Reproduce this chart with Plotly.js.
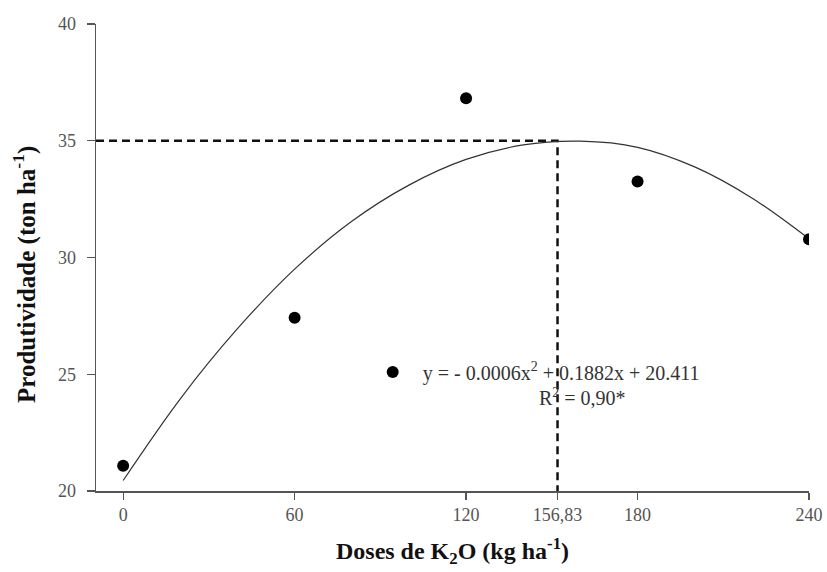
<!DOCTYPE html>
<html>
<head>
<meta charset="utf-8">
<script src="https://cdn.plot.ly/plotly-3.0.1.min.js"></script>
<style>html,body{margin:0;padding:0;background:#fff;}#chart{width:827px;height:572px;}</style>
</head>
<body>
<div id="chart"></div>
<script>
// Observed data
const doses = [0, 60, 120, 180, 240];
const produtividade = [21.08, 27.42, 36.82, 33.25, 30.78];

// Fitted curve
const curveX = [0, 20, 40, 60, 80, 100, 120, 140, 160, 180, 200, 220, 240];
const curveY = [20.45, 23.95, 26.95, 29.5, 31.55, 33.1, 34.2, 34.82, 34.98, 34.72, 33.88, 32.55, 30.8];

// Optimum guide lines (position as drawn)
const optX = 152;
const optY = 35;
const guideX = [-9.5, optX, optX];
const guideY = [optY, optY, 20];

// Tick labels
const xTickVals = [0, 60, 120, optX, 180, 240];
const xTickText = ['0', '60', '120', '156,83', '180', '240'];
const yTickVals = [20, 25, 30, 35, 40];

const serif = 'Liberation Serif, Times New Roman, serif';

const traces = [
  {
    x: guideX, y: guideY, mode: 'lines', showlegend: false, hoverinfo: 'skip',
    line: {color: '#111', width: 2.5, dash: '8px,5px'}
  },
  {
    x: curveX, y: curveY, mode: 'lines', showlegend: false,
    line: {color: '#333', width: 1.2, shape: 'spline', smoothing: 1}
  },
  {
    x: doses, y: produtividade, mode: 'markers',
    name: '&nbsp;&nbsp;y = - 0.0006x<sup>2</sup> + 0.1882x + 20.411',
    marker: {color: '#000', size: 12}
  }
];

const layout = {
  width: 827, height: 572,
  margin: {l: 96, r: 18, t: 24, b: 81},
  paper_bgcolor: '#fff', plot_bgcolor: '#fff',
  font: {family: serif, color: '#444', size: 14},
  showlegend: true,
  legend: {
    x: (392.7 - 96 - 20) / 713, y: (491 - 372) / 467, xanchor: 'left', yanchor: 'middle',
    bgcolor: 'rgba(0,0,0,0)', borderwidth: 0, itemwidth: 30,
    font: {family: serif, size: 20, color: '#333'}
  },
  xaxis: {
    range: [-9.5, 240], tickmode: 'array', tickvals: xTickVals, ticktext: xTickText,
    showgrid: false, zeroline: false, showline: true, linecolor: '#555', linewidth: 1.5,
    ticks: 'outside', ticklen: 7, tickwidth: 1.2, tickcolor: '#555',
    tickfont: {family: serif, size: 18, color: '#555'},
    title: {text: 'Doses de K<sub>2</sub>O (kg ha<sup>-1</sup>)', standoff: 18,
      font: {family: serif, size: 24, color: '#111', weight: 'bold'}}
  },
  yaxis: {
    range: [20, 40], tickmode: 'array', tickvals: yTickVals,
    showgrid: false, zeroline: false, showline: true, linecolor: '#555', linewidth: 1.5,
    ticks: 'outside', ticklen: 8, tickwidth: 1.2, tickcolor: '#555', ticklabelstandoff: 7,
    tickfont: {family: serif, size: 18, color: '#555'}
  },
  annotations: [
    {x: (582 - 96) / 713, y: (491 - 397) / 467, xref: 'paper', yref: 'paper',
     text: 'R<sup>2</sup> = 0,90*', showarrow: false, xanchor: 'center', yanchor: 'middle',
     font: {family: serif, size: 20, color: '#333'}},
    {x: (24 - 96) / 713, y: (491 - 275) / 467, xref: 'paper', yref: 'paper',
     text: 'Produtividade (ton ha<sup>-1</sup>)', textangle: -90, showarrow: false,
     xanchor: 'center', yanchor: 'middle',
     font: {family: serif, size: 25, color: '#111', weight: 'bold'}}
  ]
};

Plotly.newPlot('chart', traces, layout, {displayModeBar: false, staticPlot: true});
</script>
</body>
</html>
